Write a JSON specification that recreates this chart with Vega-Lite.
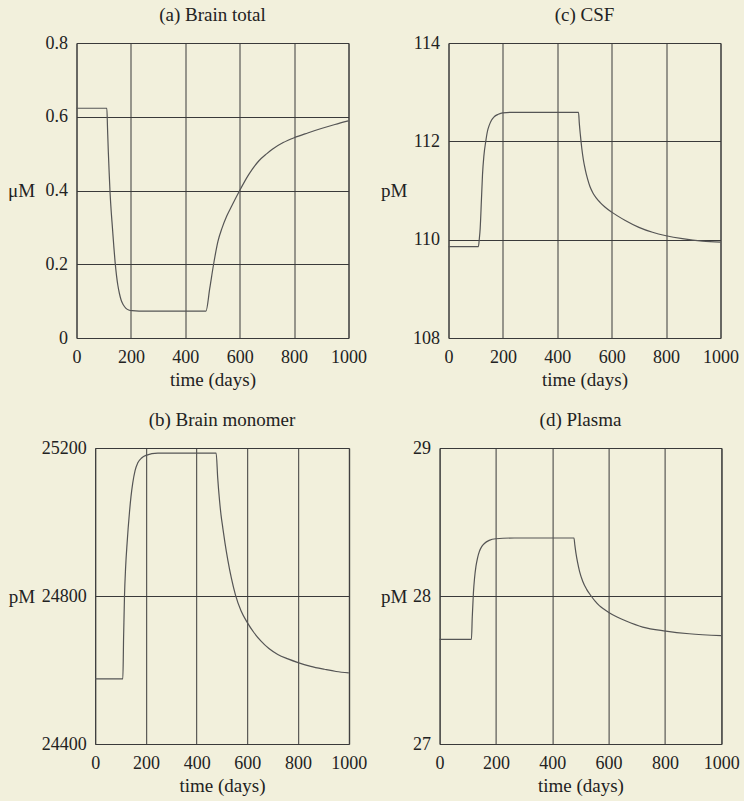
{
  "$schema": "https://vega.github.io/schema/vega-lite/v6.json",
  "background": "#f2f0dc",
  "padding": {"left": 6.5, "top": 5, "right": 5, "bottom": 5},
  "config": {
    "font": "Liberation Serif",
    "view": {"stroke": "#3a3a3a", "strokeWidth": 1},
    "axis": {
      "labelFont": "Liberation Serif", "labelFontSize": 18, "labelColor": "#222", "labelFlush": false, "labelOverlap": false,
      "titleFont": "Liberation Serif", "titleFontSize": 19, "titleFontWeight": "normal", "titleColor": "#222",
      "ticks": false, "tickSize": 0, "domain": false,
      "grid": true, "gridColor": "#3a3a3a", "gridOpacity": 1, "gridWidth": 1,
      "labelPadding": 10
    },
    "axisX": {"titlePadding": 4},
    "axisY": {"labelPadding": 9},
    "title": {"font": "Liberation Serif", "fontSize": 19, "fontWeight": "normal", "color": "#222", "frame": "group", "anchor": "middle", "baseline": "alphabetic", "offset": 9}
  },
  "datasets": {
    "a": [
      {"t": 0, "v": 0.623}, {"t": 111.6, "v": 0.623}, {"t": 114, "v": 0.57}, {"t": 117, "v": 0.505}, {"t": 120, "v": 0.45},
      {"t": 123, "v": 0.40}, {"t": 127, "v": 0.35}, {"t": 132, "v": 0.30}, {"t": 137, "v": 0.25}, {"t": 142, "v": 0.205},
      {"t": 147, "v": 0.17}, {"t": 152, "v": 0.143}, {"t": 158, "v": 0.12}, {"t": 164, "v": 0.103}, {"t": 172, "v": 0.09},
      {"t": 181, "v": 0.081}, {"t": 192, "v": 0.076}, {"t": 205, "v": 0.074}, {"t": 230, "v": 0.073}, {"t": 350, "v": 0.073},
      {"t": 476, "v": 0.073}, {"t": 490, "v": 0.135}, {"t": 504, "v": 0.2}, {"t": 520, "v": 0.262}, {"t": 535, "v": 0.298},
      {"t": 552, "v": 0.33}, {"t": 572, "v": 0.36}, {"t": 600, "v": 0.40}, {"t": 633, "v": 0.443}, {"t": 670, "v": 0.480},
      {"t": 700, "v": 0.500}, {"t": 720, "v": 0.512}, {"t": 760, "v": 0.530}, {"t": 800, "v": 0.543}, {"t": 850, "v": 0.556},
      {"t": 900, "v": 0.568}, {"t": 950, "v": 0.579}, {"t": 1000, "v": 0.589}
    ],
    "c": [
      {"t": 0, "v": 109.86}, {"t": 110, "v": 109.86}, {"t": 113, "v": 110.0}, {"t": 116.5, "v": 110.23}, {"t": 121, "v": 110.8},
      {"t": 125, "v": 111.32}, {"t": 130, "v": 111.7}, {"t": 137, "v": 112.0}, {"t": 143, "v": 112.2}, {"t": 150, "v": 112.33},
      {"t": 158, "v": 112.43}, {"t": 168, "v": 112.50}, {"t": 183, "v": 112.55}, {"t": 199, "v": 112.58}, {"t": 235, "v": 112.59},
      {"t": 350, "v": 112.59}, {"t": 478, "v": 112.59}, {"t": 481, "v": 112.36}, {"t": 485, "v": 112.12}, {"t": 490, "v": 111.86},
      {"t": 496, "v": 111.62}, {"t": 503, "v": 111.42}, {"t": 511, "v": 111.24}, {"t": 520, "v": 111.08}, {"t": 531, "v": 110.95},
      {"t": 543, "v": 110.85}, {"t": 557, "v": 110.76}, {"t": 575, "v": 110.665}, {"t": 600, "v": 110.56}, {"t": 650, "v": 110.39},
      {"t": 700, "v": 110.25}, {"t": 750, "v": 110.15}, {"t": 800, "v": 110.08}, {"t": 860, "v": 110.02}, {"t": 934, "v": 109.97},
      {"t": 1000, "v": 109.95}
    ],
    "b": [
      {"t": 0, "v": 24576}, {"t": 109, "v": 24576}, {"t": 112, "v": 24690}, {"t": 115.5, "v": 24800}, {"t": 120, "v": 24878},
      {"t": 126, "v": 24945}, {"t": 135, "v": 25025}, {"t": 141, "v": 25068}, {"t": 148, "v": 25105}, {"t": 157, "v": 25138},
      {"t": 168, "v": 25160}, {"t": 183, "v": 25173}, {"t": 200, "v": 25180}, {"t": 247, "v": 25186}, {"t": 350, "v": 25186},
      {"t": 477, "v": 25186}, {"t": 483, "v": 25120}, {"t": 490, "v": 25060}, {"t": 496, "v": 25020}, {"t": 503, "v": 24985},
      {"t": 512, "v": 24942}, {"t": 523, "v": 24897}, {"t": 537, "v": 24848}, {"t": 553, "v": 24803}, {"t": 575, "v": 24760},
      {"t": 600, "v": 24728}, {"t": 625, "v": 24702}, {"t": 654, "v": 24678}, {"t": 685, "v": 24658}, {"t": 720, "v": 24642},
      {"t": 760, "v": 24630}, {"t": 800, "v": 24620}, {"t": 850, "v": 24610}, {"t": 904, "v": 24602}, {"t": 950, "v": 24596},
      {"t": 1000, "v": 24592}
    ],
    "d": [
      {"t": 0, "v": 27.707}, {"t": 113, "v": 27.707}, {"t": 116, "v": 27.86}, {"t": 120, "v": 28.02}, {"t": 124, "v": 28.12},
      {"t": 129, "v": 28.2}, {"t": 135, "v": 28.26}, {"t": 141, "v": 28.3}, {"t": 150, "v": 28.335}, {"t": 159, "v": 28.355},
      {"t": 176, "v": 28.376}, {"t": 200, "v": 28.387}, {"t": 265, "v": 28.392}, {"t": 477, "v": 28.392}, {"t": 480, "v": 28.345},
      {"t": 484, "v": 28.29}, {"t": 490, "v": 28.225}, {"t": 497, "v": 28.165}, {"t": 508, "v": 28.10}, {"t": 522, "v": 28.045},
      {"t": 538, "v": 28.0}, {"t": 552, "v": 27.965}, {"t": 567, "v": 27.935}, {"t": 584, "v": 27.91}, {"t": 602, "v": 27.887},
      {"t": 630, "v": 27.858}, {"t": 662, "v": 27.831}, {"t": 721, "v": 27.79}, {"t": 803, "v": 27.763}, {"t": 886, "v": 27.745},
      {"t": 1000, "v": 27.732}
    ],
    "spacer": [{"k": 1}]
  },
  "spacing": 20,
  "vconcat": [
    {
      "bounds": "full",
      "spacing": 12,
      "hconcat": [
        {
          "width": 272, "height": 295,
          "title": {"text": "(a) Brain total"},
          "data": {"name": "a"},
          "mark": {"type": "line", "color": "#555", "strokeWidth": 1.2, "interpolate": "monotone"},
          "encoding": {
            "x": {"field": "t", "type": "quantitative", "scale": {"domain": [0, 1000], "nice": false}, "axis": {"values": [0, 200, 400, 600, 800, 1000], "format": "d", "title": "time (days)"}},
            "y": {"field": "v", "type": "quantitative", "scale": {"domain": [0, 0.8], "nice": false, "zero": false}, "axis": {"values": [0, 0.2, 0.4, 0.6, 0.8], "format": ".1~f", "title": "μM", "titleAngle": 0, "titleAlign": "left", "titleBaseline": "middle", "titleX": -69, "titleY": 147.5}}
          }
        },
        {
          "width": 272, "height": 295,
          "title": {"text": "(c) CSF"},
          "data": {"name": "c"},
          "mark": {"type": "line", "color": "#555", "strokeWidth": 1.2, "interpolate": "monotone"},
          "encoding": {
            "x": {"field": "t", "type": "quantitative", "scale": {"domain": [0, 1000], "nice": false}, "axis": {"values": [0, 200, 400, 600, 800, 1000], "format": "d", "title": "time (days)"}},
            "y": {"field": "v", "type": "quantitative", "scale": {"domain": [108, 114], "nice": false, "zero": false}, "axis": {"values": [108, 110, 112, 114], "format": "d", "title": "pM", "titleAngle": 0, "titleAlign": "left", "titleBaseline": "middle", "titleX": -68, "titleY": 147.5}}
          }
        }
      ]
    },
    {
      "bounds": "flush",
      "spacing": 17.7,
      "hconcat": [
        {
          "width": 1, "height": 1,
          "view": {"stroke": null},
          "data": {"name": "spacer"},
          "mark": {"type": "point", "opacity": 0, "size": 1},
          "encoding": {}
        },
        {
          "bounds": "full",
          "spacing": 11.4,
          "hconcat": [
            {
              "width": 253.6, "height": 296,
              "title": {"text": "(b) Brain monomer"},
              "data": {"name": "b"},
              "mark": {"type": "line", "color": "#555", "strokeWidth": 1.2, "interpolate": "monotone"},
              "encoding": {
                "x": {"field": "t", "type": "quantitative", "scale": {"domain": [0, 1000], "nice": false}, "axis": {"values": [0, 200, 400, 600, 800, 1000], "format": "d", "title": "time (days)"}},
                "y": {"field": "v", "type": "quantitative", "scale": {"domain": [24400, 25200], "nice": false, "zero": false}, "axis": {"values": [24400, 24800, 25200], "format": "d", "title": "pM", "titleAngle": 0, "titleAlign": "left", "titleBaseline": "middle", "titleX": -87, "titleY": 148}}
              }
            },
            {
              "width": 281.7, "height": 296,
              "title": {"text": "(d) Plasma"},
              "data": {"name": "d"},
              "mark": {"type": "line", "color": "#555", "strokeWidth": 1.2, "interpolate": "monotone"},
              "encoding": {
                "x": {"field": "t", "type": "quantitative", "scale": {"domain": [0, 1000], "nice": false}, "axis": {"values": [0, 200, 400, 600, 800, 1000], "format": "d", "title": "time (days)"}},
                "y": {"field": "v", "type": "quantitative", "scale": {"domain": [27, 29], "nice": false, "zero": false}, "axis": {"tickCount": 2, "format": "d", "title": "pM", "titleAngle": 0, "titleAlign": "left", "titleBaseline": "middle", "titleX": -59, "titleY": 148}}
              }
            }
          ]
        }
      ]
    }
  ]
}
